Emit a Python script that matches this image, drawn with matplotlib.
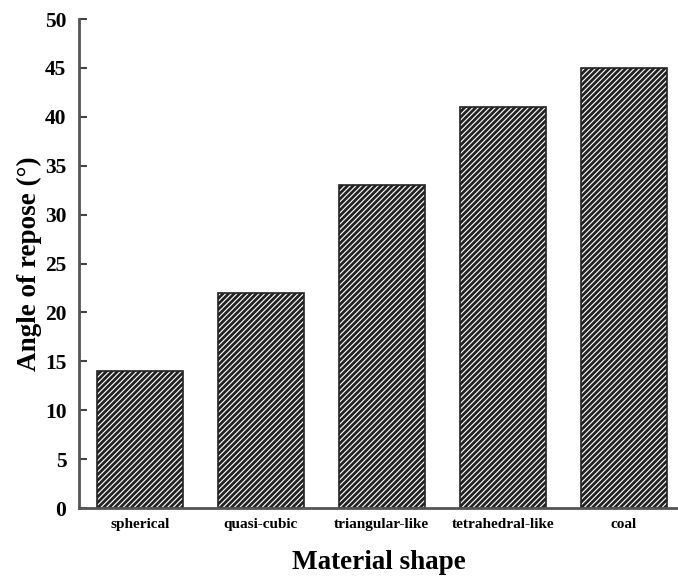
import matplotlib
matplotlib.use("Agg")
import matplotlib.pyplot as plt
import numpy as np

categories = ["spherical", "quasi-cubic", "triangular-like", "tetrahedral-like", "coal"]
values = [14, 22, 33, 41, 45]
yticks = [0, 5, 10, 15, 20, 25, 30, 35, 40, 45, 50]

plt.rcParams['font.family'] = ['Liberation Serif', 'DejaVu Serif']
plt.rcParams['font.weight'] = 'bold'
plt.rcParams['hatch.linewidth'] = 2.0

fig = plt.figure(figsize=(6.78, 5.78), dpi=100)
ax = fig.add_axes([0.1165, 0.121, 0.8835, 0.846])
x = np.arange(len(categories))
ax.bar(x, values, width=0.71, facecolor='white', edgecolor='#222222',
       hatch='//////', linewidth=1.2)
ax.set_xlim(-0.505, 4.45)
ax.set_ylim(0, 50)
ax.set_yticks(yticks)
ax.set_yticklabels([str(t) for t in yticks], fontsize=15.5, fontweight='bold')
ax.set_xticks(x)
ax.set_xticklabels(categories, fontsize=11, fontweight='bold')
ax.tick_params(axis='y', direction='in', length=6, width=1.5, pad=9, color='#444444')
ax.tick_params(axis='x', length=0, pad=7)
for s in ['top', 'right']:
    ax.spines[s].set_visible(False)
for s in ['left', 'bottom']:
    ax.spines[s].set_linewidth(2)
    ax.spines[s].set_color('#555555')
ax.set_ylabel('Angle of repose (°)', fontsize=19.5, fontweight='bold', labelpad=2)
ax.set_xlabel('Material shape', fontsize=19.5, fontweight='bold', labelpad=14)
fig.savefig('out.png', dpi=100)
